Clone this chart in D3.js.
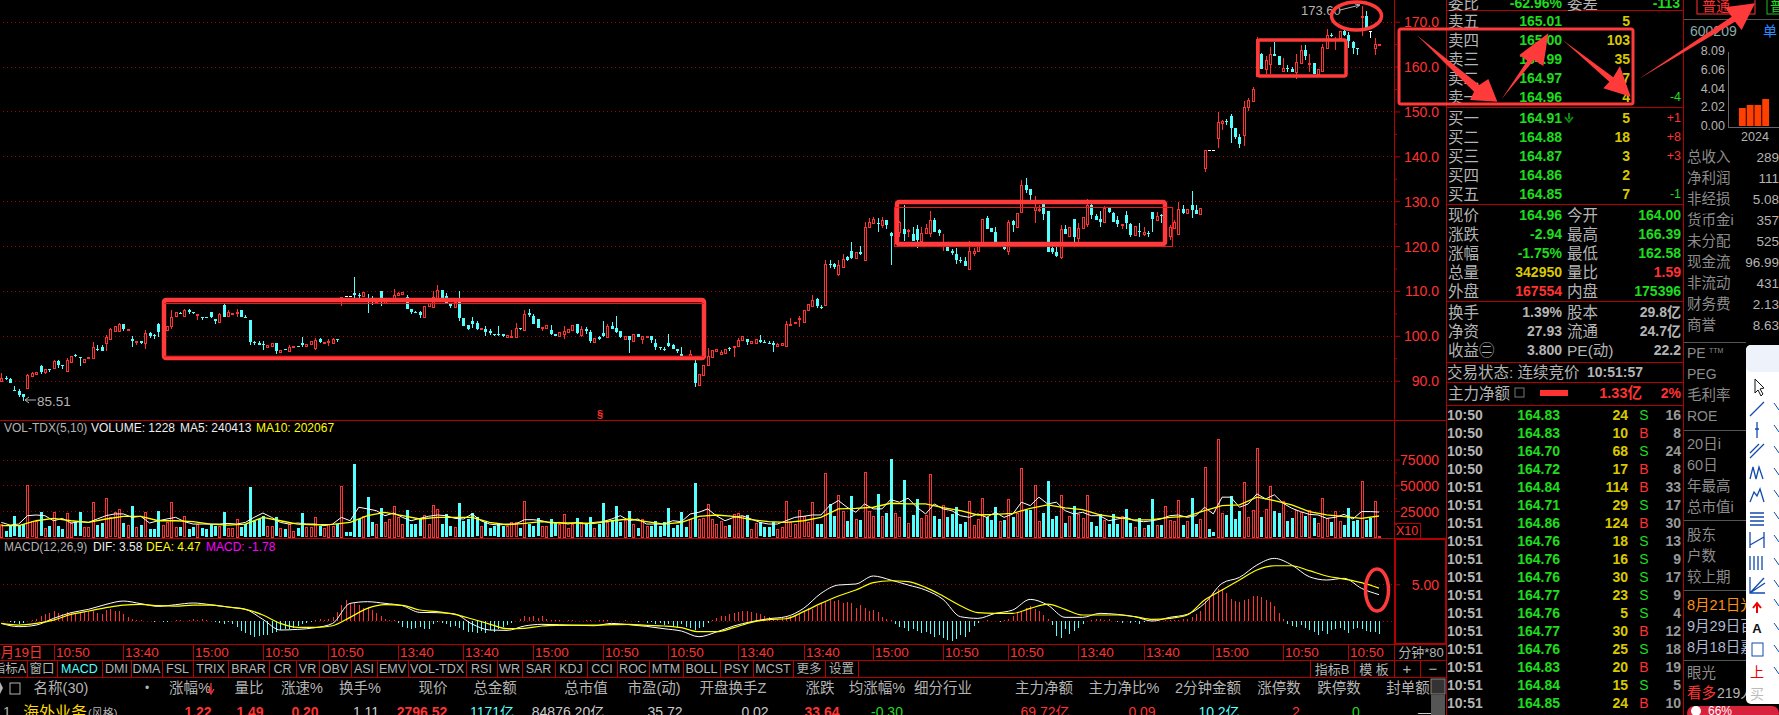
<!DOCTYPE html>
<html>
<head>
<meta charset="utf-8">
<script src="https://cdn.jsdelivr.net/npm/d3@7"></script>
<style>
html,body{margin:0;padding:0;background:#000;overflow:hidden}
text{font-family:"Liberation Sans","Noto Sans CJK SC",sans-serif;dominant-baseline:central}
</style>
</head>
<body>
<div id="chart"></div>
<script>
// candles, one entry per bar
const opens=[90,90.7,90.4,88,87.8,87,88.4,91.1,91.5,93.2,
91.9,92.7,92.8,94.3,93.4,92.2,94.3,95.7,95.3,94.2,
94.9,95.1,97.1,97.5,98.3,99.3,101.2,101.1,102.6,101.3,
99.2,98.6,98.9,98.4,100.6,100.2,102.6,101.5,101.3,102.2,
104.2,105.1,104.3,105.7,105.2,104.7,104.3,104.2,105.2,103.8,
103.2,106.9,104.2,105,105.1,105.7,104.2,103.5,98.6,98.4,
98.1,97.5,97.7,98.3,96.4,97,96.6,97.5,97.8,98.3,
97.7,98.2,97.2,99.2,98.5,98.7,98.3,99.2,108.3,108.9,
108.9,109.5,109,108.8,108.5,108,107.5,110,107.3,108,
108,109,109.3,108.6,106,105.4,105.2,104.3,106.6,106.3,
108.3,110.3,108.9,107,106.3,108.3,104,102.4,103.3,102.9,
101.4,101.6,101.1,100.5,100.5,100.3,99.7,99.8,99.7,101.8,
101.4,105,104.5,103.8,101.7,101.9,101.4,100.5,100.1,100.3,
100.9,101.4,102.6,100.3,101.6,100.9,98.8,99.7,100.7,99.9,
102.3,101.7,101,99.4,100,98.9,100.5,99.3,99.7,99.9,
98.3,97.4,97,98.5,97.9,97.1,95.9,95.2,95,93.9,
89.2,91.4,93.3,95.3,96.7,95.9,96.3,97.2,97.5,97.7,
99,99.3,98.3,98.6,99,98.6,98.5,98.4,97.7,97.9,
97.7,102.5,102.7,103.7,103.1,105.7,106.6,108.2,106.5,106.8,
116,116,113.8,115.4,117.5,119,117.2,118.6,116.9,124.2,
125.3,125.1,124.5,125.7,123,124.8,123,123.8,123.5,122.7,
123.7,121.2,122.9,122.9,125.9,123.5,120.9,119.7,118.8,118.3,
117,116.6,114.8,118.6,118.9,120.6,126.2,124,123.2,120.3,
120.8,118.8,125.5,124.3,127.5,133.7,132.7,128,128,129.3,
127.9,119.5,118.7,117.5,123.8,122.3,126.1,121.7,124,125,
129.2,126.8,126,125.3,128.4,127.4,125.7,124.6,127,125,
122.6,123.3,122.7,123,127.7,126,126.9,123,122.3,124.1,
122.7,128.3,127.3,129.2,128.1,127.2,137.6,141.4,141.4,144,
147.3,147.8,149,146.4,144.4,144.7,150.9,152.4,157.9,162.8,
159.5,160.5,162.8,162.4,159,159.6,159.4,158.8,160.7,163.7,
160.5,160.9,158.4,159,164.2,167,166,166.3,167.9,167,
165.5,164.1,171,171.3,168,164,164.9];
const closes=[90.7,90.4,89.5,87.8,86.9,86.3,91.2,91.7,92,91.9,
92.5,92.5,94.3,93.5,93.2,94.6,95.6,95.6,95.2,94.9,
95.2,97.5,96.9,96.6,99.7,101.5,102.3,102.6,101.4,101.6,
98.8,98.9,98.5,100.6,100,99.9,100.9,102,102.2,104.3,
105.2,104.9,105.7,105.2,104.9,104.9,104.2,104,104,103.3,
104.9,104.3,105.2,105.1,105.2,104.2,104,98.6,98.3,98,
98,97.9,98.3,96.6,96.9,96.8,97.6,97.8,97.7,97.8,
98.2,98.8,99,98.6,98.7,98.8,99.2,99,108.6,108.9,
108.9,109,108.9,109.7,108.3,107.9,107.8,108.2,107.9,108.3,
109.1,109.5,109.7,106,105.3,105.2,104.5,106.7,107.3,108.6,
110.3,107.9,107.3,106.6,107.5,104,102.3,101.4,102.7,101.6,
101.7,101,100.6,100.4,100.3,99.8,100.2,99.9,101.8,101.6,
104.9,104.6,102.7,101.8,102,102.5,100.5,100,100.9,101,
101.6,102.5,100.5,101.6,101.1,99,99.6,99.3,100,102.3,
101.7,100.9,99.6,100,99,100.5,99.9,99.9,100,99,
97.4,97.1,96.9,97.8,97.1,96.6,95,95,96,89.4,
91.6,93.6,95.4,96.9,97.1,96.3,97.1,96.9,97.8,99.1,
99.9,98.6,98.8,99.4,98.6,98.4,98.4,97.9,98.1,98.3,
102.7,102.7,103,103.9,105.8,107,108,106.6,106.4,116,
115.8,115.3,115.7,117.2,116.8,117.4,118.6,118.1,124.3,125.3,
126.1,125,125.7,124.6,122.4,126.3,125.3,122.7,123.6,121.2,
121.2,122.9,124,125.8,123.3,122.8,121,118.8,118.3,117,
116.9,115.5,118.8,119,120.9,126,123.8,123.2,120.5,120.5,
119.2,125.3,124.7,127.4,133.6,132.5,131.4,128.6,128.2,127,
118.7,118.7,117.9,123.7,122.6,124.2,122,124,126.5,129.2,
127,125.8,125.4,128.4,127.4,125.4,124.7,124.9,125.2,122.6,
124.5,123.1,123.2,122.9,126.1,126.8,126.8,125,124.3,125.4,
128.3,127.4,128.3,128.1,127.3,128.5,141.5,141.4,141.4,147.6,
147.8,147.7,146.4,144.4,142.9,151,152.5,155,166.1,159.4,
161.5,162.8,162.4,160.4,159.7,159.3,158.7,161,163.7,162.4,
160.8,158.4,159.5,164.4,167,166.7,166.1,167.9,167,165.6,
164.1,164,171.3,168.7,168,164.96,165];
const highs=[91.8,91,90.6,88.9,88.2,87,91.5,91.9,92,93.5,
92.5,92.7,94.6,94.6,93.4,95.1,95.6,96,95.3,94.9,
95.2,98.6,97.9,98,100.1,101.7,102.3,102.8,102.6,101.6,
99.9,98.9,98.9,101.4,100.8,100.4,102.8,102,102.2,105.8,
105.2,105.3,105.9,106,105.4,104.9,104.3,104.3,105.2,103.8,
105,107,105.8,105.1,106,105.7,104.6,103.6,98.9,98.9,
98.8,97.9,98.3,98.5,96.9,97,98,97.8,97.8,99.7,
98.2,98.8,99.6,99.5,98.7,99.2,99.5,99.2,108.7,108.9,
108.9,113,109.5,109.7,109.4,108.8,107.8,110,107.9,108.3,
110.4,109.8,109.7,109,106,105.6,105.6,106.7,107.3,110.1,
111.4,110.3,109.6,107,107.5,109.9,104,102.4,104.3,103.4,
101.7,102.3,101.5,100.5,102.3,100.5,100.2,101.2,102.8,101.8,
105.7,106,104.8,103.8,102,102.5,102.5,100.5,100.9,102.1,
101.6,102.5,102.6,102.3,101.9,101.4,99.6,100,103.4,102.7,
103,104.5,101,100,100,100.5,100.5,99.9,100,99.9,
99.2,97.4,97.4,100.3,98.2,97.1,97.4,95.2,96.8,95,
91.6,93.6,97.3,96.9,97.1,96.8,97.1,97.4,97.8,99.6,
99.9,99.4,98.8,99.4,100.1,99,98.8,98.8,98.3,98.5,
103.2,104,103,104.5,105.8,107,109.1,108.4,106.8,116.8,
117,116.2,116.8,118.3,117.8,121,118.6,120.1,125.3,126.3,
126.5,126.3,126.5,125.9,123.2,126.3,125.5,129.2,123.7,124.2,
124.8,124.2,124.9,127.9,126.3,123.8,122.7,120.9,119.4,119.6,
117.5,117.5,121.2,119.6,120.9,126,126.8,124,124.2,120.5,
120.8,125.8,125.8,127.4,134.7,135.2,132.7,131.2,129.2,129.5,
127.9,121,121,124.6,124.6,124.2,126.1,125.2,126.5,130.5,
130,127.1,127.9,129,128.8,127.6,126.8,124.9,127.9,125.2,
124.5,125.2,124.3,123.4,127.7,127.7,127.2,125,124.6,125.8,
129.9,129.2,128.3,132.3,129.2,128.5,141.5,141.4,141.4,149.9,
148.1,148.3,149.5,146.4,145,152.4,153,155.4,166.6,163,
162.4,164.4,165.5,162.4,161.9,160.3,159.8,162.7,164.8,164.7,
162.8,160.9,159.5,165,168.4,167.4,166.7,167.9,168.3,167.8,
165.6,164.1,173.6,172.4,168,166.39,165];
const lows=[90,90.1,89.5,87.8,86.4,85.5,88.4,91.1,91.5,91.5,
91.6,92,92.8,92.8,92.7,92.2,94.3,95.2,93.3,94.2,
94.9,95.1,96.6,96.6,96.6,99.3,101.2,100.8,101,101.3,
97.5,97.9,98.1,97,99.6,99.4,99.7,101.5,101.3,101.5,
104.2,104.9,104.1,104.9,104.9,103.5,103.5,104,104,102.6,
103.2,104.1,104.2,105,104.2,104.2,104,98,98,97.9,
96.8,97.5,97.7,96,96.4,96.8,96.6,97.5,97.4,97.5,
97.4,98.2,96.8,98.3,98.5,97.8,98.1,98.6,106.6,108.9,
108.9,108.3,108.2,108.8,105,106.8,107.5,106.6,107.3,108,
108,109,109.3,106,104.9,105.2,103.9,104.3,106.6,106.3,
108.3,107.9,107.3,106.3,106.3,103.4,102.3,101.4,101.7,101.4,
101.4,100,100.2,99.9,100,99.7,99.7,99.7,99.7,101.2,
101.2,104.3,102.7,101.8,101,101.9,100.1,100,100.1,99.2,
100.9,101.4,100.5,99.7,100.5,98.4,98.4,99,99.7,99.9,
101.5,100.6,99.6,99.4,96.2,98.9,99.9,98.1,99.7,98.5,
96.9,96.8,96.6,97.4,97,96.2,95,95,95,88.6,
89.2,91.4,93.3,95.3,96.4,95.7,96.3,96.6,95.3,97.7,
99,97.9,98.3,98.6,98.3,98.3,98.1,96.5,97.7,97.9,
97.7,102.4,102.7,102,103.1,105.7,106.6,106.3,106,106.8,
115.1,115,113.3,115.4,116.6,117.2,117.2,118.1,116.9,124.2,
124.9,123.1,124,123.8,115.7,124.8,122,121.2,122.1,121.2,
119.6,121.2,122.9,122.1,123.3,122.3,118.9,118.8,118,115.9,
116.2,115.5,114.8,117.7,118.9,120.6,123.8,123.2,120.5,120.3,
119.2,117.9,123.1,124.3,127.5,131.9,130,125.1,127.7,125.8,
118.7,118.3,117.6,117.1,122.6,122.3,121,121,124,124.3,
126,125.8,124.3,125.3,127.4,125.4,124.3,123.7,123.8,122.1,
122.6,122.1,122.3,122.1,123.2,125.9,125.1,123,121.4,124.1,
122.6,127.2,127.3,126.2,127.3,127.2,136.4,141.4,141.4,141.8,
145.8,147,143,143.9,141.8,142.4,150.1,152.4,157.9,159.4,
158.4,158.4,162.4,160.4,158.9,158.8,158.7,157.3,160.7,161.5,
158.9,158.4,158.4,158.9,164.2,166.5,163.7,166.3,166.9,164.1,
162.8,162.6,166.8,168.2,166.3,162.58,164.9];

const volumes=[12400,5900,10800,19900,11400,12400,50500,15000,15600,23800,
8200,10800,23800,10800,7500,23100,13400,14000,23800,9100,
9100,33600,11400,13400,37500,18900,23800,27100,13400,11400,
29700,9100,11400,23800,7500,7500,25400,11400,14000,33600,
9100,9100,19900,7500,9100,12400,8200,7500,12400,10100,
10800,23800,8200,8200,17300,9100,12400,48200,15600,17300,
19900,10100,10800,18900,8200,7500,12400,5900,8200,23100,
9100,9100,18900,10100,8200,12400,10100,12400,49200,4200,
4200,71100,17300,20500,38500,14000,12400,27700,14000,17300,
29700,18900,12400,26100,12400,12400,17900,21200,12400,31000,
27100,12400,22200,10100,9100,32900,15600,17300,23100,18900,
10800,14000,8200,10100,12400,10800,10100,14000,14000,8200,
34600,12400,10800,17900,10100,10800,17300,14000,12400,22200,
8200,12400,18300,14000,12400,19600,8200,12400,32900,14000,
16600,29700,14000,16600,25400,12400,8200,
17300,10800,10800,15600,10800,14000,28000,8500,11700,24500,
9800,17300,52500,17300,18300,31900,17300,12400,15600,10800,
11400,22200,23100,20500,21200,7500,13400,14000,9800,9800,
14000,7500,9800,34600,14000,12400,26100,19900,14000,33600,
12400,12400,62300,31900,20500,40800,25400,15600,40100,17300,
16300,62900,25400,20500,41700,20500,23100,75300,23100,18900,
55400,13400,21200,36800,18300,21200,61300,20500,17300,31000,
19600,22200,29000,12400,14700,34900,11700,17300,37800,19600,
16600,29000,15600,16600,36800,19600,22800,66800,26400,26400,
50500,15600,23100,54400,17300,20500,40800,13400,19900,30000,
22200,18300,40800,14700,10800,22200,16300,12400,22200,12400,
20500,27100,13400,9100,18300,8200,11700,36800,11400,11400,
30000,16300,15300,35900,11400,15600,37800,12400,17300,67800,
7500,4200,95200,23100,21200,39800,17300,25400,53100,18900,
26100,86400,19600,27100,49200,25400,23100,
35200,15600,18600,26100,23800,20200,26100,17900,13000,38100,
17900,14000,25100,15300,11400,27700,15300,16300,54400,16300,
18600,34900,1228];
// MA5 read every 2nd bar, MA10 every 4th bar
const ma5=[14000,11400,12400,20500,21200,20500,15600,17900,13400,14700,
14000,17300,20500,22200,22200,18900,19900,13400,15600,17300,
18900,14700,12400,12400,12400,12400,13000,12400,14000,18900,
23100,18900,14000,12400,13400,12400,12400,10800,12400,18900,
15600,28700,27100,25400,20500,23100,18900,15600,17900,19900,
21200,20500,17900,17300,22200,15600,12400,11400,12400,12400,
16600,16600,15600,13400,14000,12400,14000,12400,14000,14700,
17300,20500,15600,17300,
12400,12400,12400,15600,14700,22200,23800,27100,20500,15600,
18900,20500,17300,14000,12400,12400,15600,18900,19900,21200,
21200,30300,35200,28700,23800,31900,27100,27100,36200,33600,
37500,28700,22200,31900,27100,25400,20500,18900,22200,18900,
23800,18900,22200,33600,30300,38500,31900,33600,25400,22200,
23800,20500,20500,15600,17300,18900,15600,14700,15600,17300,
20500,21200,18900,20500,28700,22200,38500,38500,28700,31900,
41700,36800,40800,32600,27700,24500,21800,21200,17900,18900,
21800,17300,24500,24500,24041];
const ma10=[10800,10800,15600,17900,15600,14000,17300,19900,19900,15600,
15600,14700,12400,11400,12400,18900,15600,12400,11700,12100,
14000,20500,23800,20500,17300,18900,18900,18900,14000,11700,
13000,14700,13400,13400,13000,15600,17300,
14700,12400,14000,19900,21200,19900,16600,14700,14000,15600,
18900,27100,27700,28700,32600,31900,31900,28400,25400,21200,
21800,22800,27700,31000,28000,26400,21200,18900,16300,16600,
18900,19900,25400,30300,31000,38500,35200,
31000,24500,21200,19600,17900,20207];
// DIF and DEA read every 4th bar
const dif=[-.37,-.82,-.6,.32,1.1,1.56,2.24,2.7,2.34,1.97,
2.2,2.43,2.2,1.88,1.56,.18,-1.28,-1.19,-.96,-.37,
2.38,2.61,2.38,2.06,1.14,1.1,.92,-.46,-1.28,-1.33,
-.73,-.5,-.55,-.64,-.69,-.37,-.55,-.78,-1.1,-1.42,
-2.2,-1.56,-.73,-.14,.27,.55,1.69,3.75,4.9,5.04,
6.14,5.59,4.9,4.21,2.93,.55,.32,1.01,1.47,2.93,
2.15,.46,.46,1.01,.87,.55,-.05,.46,.87,2.38,
5.13,5.95,7.65,8.56,7.65,6.04,5.59,5.82,4.44,3.58];
const dea=[-.37,-.6,-.37,.09,.87,1.33,1.79,2.15,2.24,2.06,
2.01,2.15,2.15,1.88,1.56,.78,-.37,-.92,-.92,-.69,
.46,1.69,2.2,2.11,1.47,1.24,.87,.23,-.46,-1.1,
-1.05,-.73,-.64,-.6,-.6,-.55,-.5,-.64,-.73,-.96,
-1.51,-1.51,-.96,-.23,.14,.27,1.24,2.38,3.39,4.21,
5.22,5.49,5.36,4.58,3.39,2.06,1.1,1.01,1.01,1.69,
2.29,1.56,.78,.78,.78,.55,.18,.32,.78,2.84,
4.21,5.59,6.96,7.55,7.55,6.87,6.14,5.72,5.22,4.47];
const macdBars=[-.1,-.1,-.2,-.3,-.4,-.3,-.1,.1,.3,.6,
.9,1.1,1.3,1,.9,1.2,1.1,.9,1,1.2,
1.4,1.3,1.1,.9,1.5,1.6,1.4,1.3,.9,.5,
.3,.1,.1,-.1,-.1,-.2,-.1,-.2,-.2,-.1,
.1,.1,-.1,.1,.2,.1,.2,.1,-.1,-.2,
-.3,-.4,-.2,-.5,-.9,-1.4,-1.7,-2,-2.2,-2.1,
-1.9,-2,-1.7,-1.5,-1.3,-1.1,-1.2,-1,-.7,-.4,
-.3,-.2,.1,.2,.1,.3,.5,1.2,2.2,2.8,
2.5,2.6,2.2,1.8,1.9,1.5,1.1,.7,.3,.1,
.05,-.3,-.8,-1,-1.2,-1,-.8,-1.1,-1.2,-.5,
-.2,-.3,-.5,-.8,-.7,-1,-1.3,-1.6,-1.5,-1.7,
-1.4,-1.7,-1.3,-1.5,-1.2,-.9,-.6,-.3,-.1,.2,
.6,.5,.7,.4,.6,.3,.1,.1,.1,-.1,
.1,.05,-.1,-.05,.1,.05,-.05,.1,.1,.05,
-.05,-.1,-.05,.05,-.05,-.1,-.2,-.1,-.3,-.2,
-.4,-.3,-.6,-.4,-.7,-.8,-.5,-.9,-1,-1.3,
-1,-.9,-.3,.1,.4,.6,.7,.9,1.1,1.2,
1.4,1.3,1.2,1,.9,.7,.5,.3,.2,.5,
.6,.7,.7,.9,1.4,1.7,1.6,2,2.4,2.6,
2.8,2.7,2.9,2.5,2.6,2.4,1.8,2.2,1.7,1.4,
1.5,1.2,.5,.2,.1,-.4,-.9,-1,-1.4,-1.1,
-1.4,-1.7,-1.5,-1.8,-2.2,-2,-2.4,-2.6,-2.8,-2.5,
-1.9,-2.2,-1.6,-.7,-.3,-.1,.1,-.1,-.1,-.2,
.1,.2,.7,1,1.3,1.8,2,1.6,1.3,.8,
.3,-.6,-2.1,-2.4,-1.2,-1.8,-1.4,-1,-.5,-.1,
.1,.3,.2,.1,.2,-.1,-.2,-.3,-.1,-.3,
-.2,-.4,-.2,-.1,.1,-.1,-.1,.1,.1,.05,
.1,.2,.3,.5,.9,1.4,2.7,3.3,3.9,4.3,
4.4,3.8,3,2.7,2.6,2.8,3,3.4,3.4,3.2,
2.9,2.6,2,1,.2,-.4,-.7,-.9,-.6,-1,
-1.3,-1.6,-1.9,-1.4,-1.8,-1.3,-1.2,-1,-1.3,-1.7,
-1.1,-1,-1.2,-1.4,-1.6,-1.6,-1.78];

const priceTicks=[170,160,150,140,130,120,110,100,90];
const priceMinor=[165,155,145,135,125,115,105,95];
const volTicks=[25000,50000,75000];
const volMinor=[12500,37500,62500];
const timeLabels=["10:50","13:40","15:00","10:50","10:50","13:40","13:40","15:00","10:50","10:50","13:40","13:40","15:00","10:50","10:50","13:40","13:40","15:00","10:50","10:50"];
const timeBars=[12,28,44,60,75,91,106,122,138,153,169,184,200,216,231,247,262,278,294,309];
const tabNames=["指标A","窗口","MACD","DMI","DMA","FSL","TRIX","BRAR","CR","VR","OBV","ASI","EMV","VOL-TDX","RSI","WR","SAR","KDJ","CCI","ROC","MTM","BOLL","PSY","MCST","更多","设置"];
const tabEdges=[27,57,102,131,162,193,228,269,296,319,351,377,408,466,497,522,555,587,617,649,683,720,753,793,825,858];
const headNames=["名称(30)","涨幅%","量比","涨速%","换手%","现价","总金额","总市值","市盈(动)","开盘换手Z","涨跌","均涨幅%","细分行业","主力净额","主力净比%","2分钟金额","涨停数","跌停数","封单额"];
const headX=[61,190,249,302,360,433,495,586,654,733,820,877,943,1044,1124,1208,1279,1339,1408];
const rowVals=["1.22","1.49","0.20","1.11","2796.52","1171亿","84876.20亿","35.72","0.02","33.64","-0.30","69.72亿","0.09","10.2亿","2","0","—"];
const rowX=[198,250,305,366,422,492,568,665,755,822,887,1045,1142,1219,1296,1356,1425];
const rowCol=["#ff3232","#ff3232","#ff3232","#ccc","#ff3232","#54ffff","#ccc","#ccc","#ccc","#ff3232","#1edc1e","#ff3232","#ff3232","#54ffff","#ff3232","#1edc1e","#ccc"];

const bookLabels=["卖五","卖四","卖三","卖二","卖一","买一","买二","买三","买四","买五"];
const bookPrices=["165.01","165.00","164.99","164.97","164.96","164.91","164.88","164.87","164.86","164.85"];
const bookSizes=["5","103","35","7","4","5","18","3","2","7"];
const bookDiffs=["","","","","-4","+1","+8","+3","","-1"];
const tradeTimes=["10:50","10:50","10:50","10:50","10:51","10:51","10:51","10:51","10:51","10:51","10:51","10:51","10:51","10:51","10:51","10:51","10:51"];
const tradePrices=["164.83","164.83","164.70","164.72","164.84","164.71","164.86","164.76","164.76","164.76","164.77","164.76","164.77","164.76","164.83","164.84","164.85"];
const tradeVols=["24","10","68","17","114","29","124","18","16","30","23","5","30","25","20","15","24"];
const tradeSides=["S","B","S","B","B","S","B","S","S","S","S","S","B","S","B","S","B"];
const tradeCounts=["16","8","24","8","33","17","30","13","9","17","9","4","12","18","19","5","10"];
const finLabels=["总收入","净利润","非经损","货币金i","未分配","现金流","非流动","财务费","商誉"];
const finVals=["289","111","5.08","357","525","96.99","431","2.13","8.63"];
const epsYears=[1,2,3,4];
const epsVals=[1.94,2.27,2.27,2.91];
const epsTicks=[0,2.02,4.04,6.06,8.09];

const RED="#ff3232",CYAN="#54ffff",LINE="#b40000",GRID="#a80000",MARK="#ff3a3a",GREY="#b4b4b4";
const width=1779,height=715;
const svg=d3.select("#chart").append("svg").attr("width",width).attr("height",height).style("display","block").style("background","#000");

function txt(g,x,y,s,fill,size,anchor,weight){
    return g.append("text").attr("x",x).attr("y",y).attr("fill",fill).attr("font-size",size||14)
        .attr("text-anchor",anchor||"start").attr("font-weight",weight||"normal").text(s);
}
function hline(g,x1,x2,y,col,w){
    g.append("line").attr("x1",x1).attr("x2",x2).attr("y1",y).attr("y2",y).attr("stroke",col||LINE).attr("stroke-width",w||1).attr("shape-rendering","crispEdges");
}
function vline(g,x,y1,y2,col,w){
    g.append("line").attr("x1",x).attr("x2",x).attr("y1",y1).attr("y2",y2).attr("stroke",col||LINE).attr("stroke-width",w||1).attr("shape-rendering","crispEdges");
}

const bars=d3.range(opens.length);
const x=d3.scaleLinear().domain([0,316]).range([1.3,1379]);
const px=i=>Math.round(x(i))+.5;
const yPrice=d3.scaleLinear().domain([170,90]).range([21.7,380.7]);
const yVol=d3.scaleLinear().domain([0,75000]).range([536.8,459.6]);
const yMacd=d3.scaleLinear().domain([0,5]).range([620.7,584.3]);
const isUp=i=>closes[i]>opens[i];

svg.append("defs").append("clipPath").attr("id","plotClip").append("rect").attr("x",0).attr("y",0).attr("width",1394).attr("height",644);
const plot=svg.append("g").attr("clip-path","url(#plotClip)");

// grid
function dotted(values,scale){
    plot.append("g").selectAll("line").data(values).join("line")
        .attr("x1",3).attr("x2",1394).attr("y1",d=>Math.round(scale(d))+.5).attr("y2",d=>Math.round(scale(d))+.5)
        .attr("stroke",GRID).attr("stroke-dasharray","1,3").attr("shape-rendering","crispEdges");
}
dotted(priceTicks,yPrice);
dotted(volTicks,yVol);
dotted([0,5],yMacd);

// candles
const candleCol=i=>isUp(i)?RED:(closes[i]<opens[i]?CYAN:"#fff");
const candles=plot.append("g").attr("shape-rendering","crispEdges");
candles.selectAll(".wick").data(bars).join("line").attr("class","wick")
    .attr("x1",px).attr("x2",px).attr("y1",i=>yPrice(highs[i])).attr("y2",i=>yPrice(lows[i]))
    .attr("stroke",candleCol);
candles.selectAll(".body").data(bars).join("rect").attr("class","body")
    .attr("x",i=>isUp(i)?px(i)-1:px(i)-1.5).attr("width",i=>isUp(i)?2:3)
    .attr("y",i=>Math.round(yPrice(Math.max(opens[i],closes[i])))+(isUp(i)?.5:0))
    .attr("height",i=>Math.max(1,Math.round(Math.abs(yPrice(opens[i])-yPrice(closes[i])))))
    .attr("fill",i=>isUp(i)?"#000":candleCol(i))
    .attr("stroke",i=>isUp(i)?RED:"none");

txt(plot,37,401,"85.51",GREY,13.5);
plot.append("path").attr("d","M36 400H25M29 397L25 400L29 403").attr("fill","none").attr("stroke",GREY);
txt(plot,1301,10,"173.60",GREY,13);
plot.append("path").attr("d","M1340 10L1360 5M1355 4L1360 5L1356 8").attr("fill","none").attr("stroke",GREY);
txt(plot,600,414,"§",RED,11,"middle","bold");

// volume
const vols=plot.append("g").attr("shape-rendering","crispEdges");
vols.selectAll("rect").data(bars).join("rect")
    .attr("x",i=>isUp(i)?px(i)-1:px(i)-1.5)
    .attr("width",i=>isUp(i)?2:3)
    .attr("y",i=>Math.round(yVol(volumes[i]))+(isUp(i)?.5:0))
    .attr("height",i=>Math.max(1,Math.round(yVol(0)-yVol(volumes[i]))))
    .attr("fill",i=>isUp(i)?"#000":CYAN)
    .attr("stroke",i=>isUp(i)?RED:"none");
const ma5Line=d3.line().x((d,i)=>x(i*2)).y(d=>yVol(d));
const ma10Line=d3.line().x((d,i)=>x(i*4)).y(d=>yVol(d));
plot.append("path").attr("d",ma5Line(ma5)).attr("fill","none").attr("stroke","#fff");
plot.append("path").attr("d",ma10Line(ma10)).attr("fill","none").attr("stroke","#ffff00").attr("stroke-width",1.3);

// macd
plot.append("g").attr("shape-rendering","crispEdges").selectAll("line").data(bars).join("line")
    .attr("x1",px).attr("x2",px).attr("y1",yMacd(0)).attr("y2",i=>yMacd(macdBars[i]))
    .attr("stroke",i=>macdBars[i]>=0?RED:CYAN);
const macdLine=d3.line().x((d,i)=>x(i*4)).y(d=>yMacd(d)).curve(d3.curveMonotoneX);
plot.append("path").attr("d",macdLine(dif)).attr("fill","none").attr("stroke","#fff");
plot.append("path").attr("d",macdLine(dea)).attr("fill","none").attr("stroke","#ffff00").attr("stroke-width",1.2);

// panel frame
const frame=svg.append("g");
hline(frame,0,1446,420.5);
hline(frame,0,1446,538.5,LINE,1.5);
hline(frame,0,1446,644.5,LINE,1.5);
hline(frame,0,1446,660.5);
hline(frame,0,1446,677.5);
vline(frame,1394.5,0,660);
vline(frame,1446.5,0,715);
vline(frame,1683.5,0,715);
frame.append("rect").attr("x",1395).attr("y",539).attr("width",51).attr("height",105).attr("fill","none").attr("stroke",LINE).attr("stroke-width",2);
frame.append("rect").attr("x",1394.5).attr("y",523.5).attr("width",26).attr("height",15).attr("fill","none").attr("stroke",LINE);
txt(frame,1407,531,"X10",RED,12.5,"middle");

// right axes
function axisStyle(g){
    g.selectAll("path").attr("stroke","none");
    g.selectAll("line").attr("stroke",LINE);
    g.selectAll("text").attr("fill",RED).attr("font-size",14).attr("text-anchor","end").attr("x",45).attr("dy",0);
}
svg.append("g").attr("transform","translate(1394,0)").call(d3.axisRight(yPrice).tickValues(priceTicks).tickSize(6).tickFormat(d3.format(".1f"))).call(axisStyle);
svg.append("g").attr("transform","translate(1394,0)").call(d3.axisRight(yPrice).tickValues(priceMinor).tickSize(3).tickFormat("")).call(axisStyle);
svg.append("g").attr("transform","translate(1394,0)").call(d3.axisRight(yVol).tickValues(volTicks).tickSize(6).tickFormat(d3.format("d"))).call(axisStyle);
svg.append("g").attr("transform","translate(1394,0)").call(d3.axisRight(yVol).tickValues(volMinor).tickSize(3).tickFormat("")).call(axisStyle);
svg.append("g").attr("transform","translate(1394,0)").call(d3.axisRight(yMacd).tickValues([5]).tickSize(6).tickFormat(d3.format(".2f"))).call(axisStyle);

// indicator headers
const heads=svg.append("g");
txt(heads,4,428,"VOL-TDX(5,10)",GREY,12);
txt(heads,91,428,"VOLUME: 1228","#eee",12);
txt(heads,180,428,"MA5: 240413","#eee",12);
txt(heads,256,428,"MA10: 202067","#ffff00",12);
txt(heads,4,547,"MACD(12,26,9)",GREY,12);
txt(heads,93,547,"DIF: 3.58","#eee",12);
txt(heads,146,547,"DEA: 4.47","#ffff00",12);
txt(heads,206,547,"MACD: -1.78","#ff00ff",12);

// time row
const timeRow=svg.append("g");
txt(timeRow,-7,652,"8月19日",RED,13.5);
timeLabels.forEach((s,k)=>{
    const tx=Math.round(x(timeBars[k]))+.5;
    vline(timeRow,tx,645,660);
    txt(timeRow,tx+1.5,652,s,RED,13.5);
});
txt(timeRow,1421,652,"分钟*80",GREY,13,"middle");

// tabs
const tabs=svg.append("g");
tabNames.forEach((s,k)=>{
    const x0=k?tabEdges[k-1]:-8;
    vline(tabs,tabEdges[k]+.5,660,677);
    txt(tabs,(x0+tabEdges[k])/2,669,s,s==="MACD"?CYAN:GREY,12.5,"middle");
});
vline(tabs,1310.5,660,677);vline(tabs,1354.5,660,677);vline(tabs,1394.5,660,677);vline(tabs,1420.5,660,677);
txt(tabs,1332,669,"指标B",GREY,13,"middle");
txt(tabs,1374,669,"模 板",GREY,13,"middle");
txt(tabs,1407,668,"+",GREY,15,"middle");
txt(tabs,1433,668,"−",GREY,15,"middle");

// table
const table=svg.append("g");
table.append("path").attr("d","M0 682L3 688L0 694Z").attr("fill",GREY);
table.append("rect").attr("x",10).attr("y",683).attr("width",10).attr("height",11).attr("fill","none").attr("stroke",GREY);
headNames.forEach((s,k)=>txt(table,headX[k],688,s,GREY,14.5,"middle"));
txt(table,147,688,"•",GREY,12,"middle");
txt(table,3,712,"1",GREY,14);
txt(table,23,712,"海外业务","#ffdd00",16);
txt(table,88,713,"(风格)",GREY,11);
rowVals.forEach((s,k)=>txt(table,rowX[k],712,s,rowCol[k],14,"middle",k==4||k==9||k<3?"bold":"normal"));
table.append("path").attr("d","M211 683V692M208 689L211 694L214 689").attr("stroke",RED).attr("fill","none").attr("stroke-width",1.3);
table.append("rect").attr("x",1431).attr("y",679).attr("width",14).attr("height",15).attr("fill","#333").attr("stroke","#888");
table.append("rect").attr("x",1431).attr("y",695).attr("width",14).attr("height",20).attr("fill","#555");

// quote panel
const quote=svg.append("g");
const G="#1edc1e",Y="#d8c800";
[10,107,204,301,362,382,405].forEach(v=>hline(quote,1446,1683,v+.5));
txt(quote,1448,3,"委比",GREY,15.5);txt(quote,1562,3,"-62.96%",G,14,"end","bold");
txt(quote,1567,3,"委差",GREY,15.5);txt(quote,1680,3,"-113",G,14,"end","bold");
const bookY=[21,40,59,78,97,118,137,156,175,194];
bookLabels.forEach((s,k)=>{
    txt(quote,1448,bookY[k],s,GREY,15.5);
    txt(quote,1562,bookY[k],bookPrices[k],G,14,"end","bold");
    txt(quote,1630,bookY[k],bookSizes[k],Y,14,"end","bold");
    txt(quote,1681,bookY[k],bookDiffs[k],bookDiffs[k][0]=="-"?G:RED,12.5,"end");
});
quote.append("path").attr("d","M1569 113V119M1565 117L1569 122L1573 117").attr("stroke","#0a8a0a").attr("fill","none").attr("stroke-width",2);
const statRows=[
 [215,"现价","164.96",G,"今开","164.00",G],
 [234,"涨跌","-2.94",G,"最高","166.39",G],
 [253,"涨幅","-1.75%",G,"最低","162.58",G],
 [272,"总量","342950",Y,"量比","1.59",RED],
 [291,"外盘","167554",RED,"内盘","175396",G],
 [312,"换手","1.39%",GREY,"股本","29.8亿",GREY],
 [331,"净资","27.93",GREY,"流通","24.7亿",GREY],
 [350,"收益㊁","3.800",GREY,"PE(动)","22.2",GREY]];
statRows.forEach(r=>{
    txt(quote,1448,r[0],r[1],GREY,15.5);
    txt(quote,1562,r[0],r[2],r[3],14,"end","bold");
    txt(quote,1567,r[0],r[4],GREY,15.5);
    txt(quote,1681,r[0],r[5],r[6],14,"end","bold");
});
txt(quote,1447,372,"交易状态: 连续竞价",GREY,15.5);
txt(quote,1587,372,"10:51:57",GREY,14,"start","bold");
txt(quote,1448,393,"主力净额",GREY,15.5);
quote.append("rect").attr("x",1515).attr("y",388).attr("width",9).attr("height",9).attr("fill","none").attr("stroke","#777");
quote.append("rect").attr("x",1540).attr("y",390).attr("width",28).attr("height",6).attr("fill",RED);
txt(quote,1642,393,"1.33亿",RED,14.5,"end","bold");
txt(quote,1681,393,"2%",RED,14,"end","bold");
tradeTimes.forEach((s,k)=>{
    const ty=415+k*18;
    txt(quote,1447,ty,s,GREY,14,"start","bold");
    txt(quote,1560,ty,tradePrices[k],G,14,"end","bold");
    txt(quote,1628,ty,tradeVols[k],Y,14,"end","bold");
    txt(quote,1644,ty,tradeSides[k],tradeSides[k]=="S"?G:RED,14,"middle");
    txt(quote,1681,ty,tradeCounts[k],"#999",14,"end","bold");
});

// fundamentals column
const fin=svg.append("g");
fin.append("rect").attr("x",1697).attr("y",-2).attr("width",58).attr("height",16).attr("fill","none").attr("stroke",RED);
txt(fin,1702,6,"普通",RED,14);
fin.append("rect").attr("x",1767).attr("y",-2).attr("width",20).attr("height",16).attr("fill","none").attr("stroke","#22bb22");
txt(fin,1770,6,"普",G,14);
hline(fin,1684,1779,19,"#555");
txt(fin,1690,31,"600209","#8aa",14,"start");
txt(fin,1763,31,"单",'#2a8cff',14);
const yEps=d3.scaleLinear().domain([0,8.09]).range([126,51]);
const xEps=d3.scaleBand().domain(epsYears).range([1738,1770]).padding(.12);
epsTicks.forEach(v=>txt(fin,1725,yEps(v),v.toFixed(2),GREY,12.5,"end"));
fin.selectAll(".eps").data(epsYears).join("rect").attr("class","eps")
    .attr("x",d=>xEps(d)).attr("width",xEps.bandwidth())
    .attr("y",(d,i)=>yEps(epsVals[i])).attr("height",(d,i)=>yEps(0)-yEps(epsVals[i]))
    .attr("fill","#ff4000");
vline(fin,1728.5,52,127,"#666");hline(fin,1728,1779,127,"#666");
txt(fin,1755,137,"2024",GREY,12.5,"middle");
finLabels.forEach((s,k)=>{
    txt(fin,1687,157+k*21,s,"#8c8c8c",14.5);
    txt(fin,1779,157+k*21,finVals[k],GREY,13.5,"end");
});
hline(fin,1684,1746,342,"#555");
txt(fin,1687,353,"PE","#8c8c8c",14);
txt(fin,1709,350,"TTM","#8c8c8c",7);
txt(fin,1687,374,"PEG","#8c8c8c",14);
txt(fin,1687,395,"毛利率","#8c8c8c",14.5);
txt(fin,1687,416,"ROE","#8c8c8c",14);
hline(fin,1684,1746,430,"#555");
["20日i","60日","年最高","总市值i"].forEach((s,k)=>txt(fin,1687,444+k*21,s,"#8c8c8c",14.5));
hline(fin,1684,1746,520,"#555");
["股东","户数","较上期"].forEach((s,k)=>txt(fin,1687,535+k*21,s,"#8c8c8c",14.5));
hline(fin,1684,1746,590,"#555");
txt(fin,1687,605,"8月21日光","#ff9010",14.5);
txt(fin,1687,626,"9月29日百","#b0b8d0",14.5);
txt(fin,1687,647,"8月18日嘉","#b0b8d0",14.5);
hline(fin,1684,1746,660,"#555");
txt(fin,1687,673,"眼光","#8c8c8c",14.5);
txt(fin,1687,693,"看多",RED,14.5);
txt(fin,1717,693,"219人",GREY,14);
fin.append("rect").attr("x",1687).attr("y",706).attr("width",92).attr("height",14).attr("rx",7).attr("fill","#d8223c");
fin.append("circle").attr("cx",1696).attr("cy",711).attr("r",5).attr("fill","#fff");
txt(fin,1708,711,"66%","#fff",12);

// drawing toolbar
const tools=svg.append("g");
tools.append("rect").attr("x",1746).attr("y",345).attr("width",40).attr("height",359).attr("rx",5).attr("fill","#fff");
tools.append("rect").attr("x",1746).attr("y",345).attr("width",40).attr("height",27).attr("rx",5).attr("fill","#edf2fb");
tools.append("path").attr("d","M1755 379L1755 393L1758 390L1761 396L1763 394L1760 389L1764 388Z").attr("fill","#fff").attr("stroke","#111");
const toolY=[408,430,451,473,495,517,540,563,585];
const toolPaths=["M-7 8L7 -6","M0 -8V8M-2 -1H2","M-7 7L7 -7M-7 2L2 -7","M-7 6L-4 -6L-1 6L2 -6L6 6","M-7 7L-3 -3L0 1L3 -6L7 7","M-7 -4H7M-7 0H7M-7 4H7M-7 8H7","M-7 -8V8M-7 5L7 -3M7 -8V8","M-7 -7V7M-3 -7V7M1 -7V7M5 -7V7","M-7 -8V8H8M-7 8L7 -7M-7 8L8 -2"];
toolPaths.forEach((d,k)=>tools.append("path").attr("transform",`translate(1757,${toolY[k]})`).attr("d",d).attr("fill","none").attr("stroke","#114bb0").attr("stroke-width",1.3));
tools.append("path").attr("d","M1757 604V613M1753 608L1757 603L1761 608").attr("fill","none").attr("stroke","#e00").attr("stroke-width",2);
txt(tools,1757,628,"A","#111",13,"middle","bold");
tools.append("rect").attr("x",1752).attr("y",643).attr("width",11).attr("height",13).attr("fill","none").attr("stroke","#114bb0");
txt(tools,1757,672,"上","#e00",14,"middle");
txt(tools,1757,694,"买","#bbb",14,"middle");
toolY.concat([604,628,650,672]).forEach(v=>tools.append("path").attr("d",`M1774 ${v-5}L1779 ${v+2}`).attr("stroke","#114bb0"));

// hand drawn marks on top
const marks=svg.append("g");
const boxes=[[164,300,540,58,4.5],[897,202,268,42,4.5],[1258,40,88,36,3.5],[1399,29,234,75,3]];
marks.selectAll(".box").data(boxes).join("rect").attr("class","box")
    .attr("x",d=>d[0]).attr("y",d=>d[1]).attr("width",d=>d[2]).attr("height",d=>d[3])
    .attr("rx",2).attr("fill","none").attr("stroke",MARK).attr("stroke-width",d=>d[4]);
hline(marks,164,704,303.5,"#f01818");hline(marks,164,704,356.5,"#f01818");
marks.append("rect").attr("x",894.5).attr("y",207.5).attr("width",278).attr("height",39).attr("fill","none").attr("stroke","#f01818");
marks.append("ellipse").attr("cx",1356.5).attr("cy",16).attr("rx",25).attr("ry",14).attr("fill","none").attr("stroke",MARK).attr("stroke-width",3.5);
marks.append("ellipse").attr("cx",1377).attr("cy",590).attr("rx",11.5).attr("ry",21).attr("fill","none").attr("stroke",MARK).attr("stroke-width",3.5);
// arrows, points in the quote panel's 3x crop space
const arrows=[
 [[440,105],[628,255],[655,237],[682,305],[600,300],[612,275]],
 [[695,297],[772,182],[748,165],[835,100],[820,198],[792,180]],
 [[878,120],[1030,232],[1050,198],[1082,290],[1000,265],[1018,245]],
 [[1105,238],[1385,50],[1365,22],[1455,10],[1415,90],[1395,65]]];
const arrowLine=d3.line().x(d=>1270+d[0]/3).y(d=>d[1]/3);
marks.selectAll(".arrow").data(arrows).join("path").attr("class","arrow")
    .attr("d",d=>arrowLine(d)+"Z").attr("fill",MARK);
</script>
</body>
</html>
